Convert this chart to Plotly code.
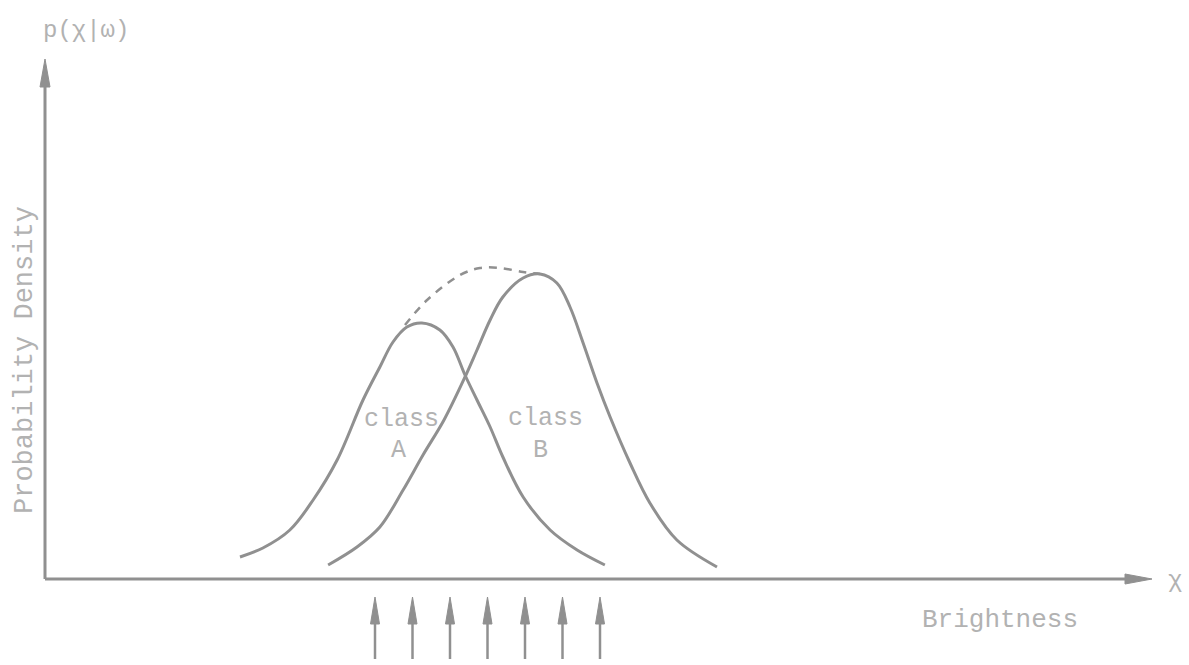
import plotly.graph_objects as go

# ---- data (brightness units, density units) ----
class_a_x = [5.20, 5.81, 6.53, 7.15, 7.79, 8.48, 8.93, 9.28, 9.65, 10.05, 10.53, 10.88, 11.20, 11.52, 11.87, 12.21, 12.75, 13.47, 14.19, 14.93]
class_a_y = [0.22, 0.31, 0.49, 0.79, 1.19, 1.79, 2.12, 2.37, 2.52, 2.56, 2.49, 2.32, 2.04, 1.79, 1.52, 1.22, 0.82, 0.49, 0.29, 0.14]

class_b_x = [7.55, 8.32, 8.93, 9.55, 10.08, 10.64, 11.20, 11.52, 11.87, 12.21, 12.75, 13.20, 13.65, 14.00, 14.35, 14.72, 15.07, 15.60, 16.13, 16.85, 17.92]
class_b_y = [0.14, 0.32, 0.52, 0.89, 1.24, 1.59, 2.02, 2.29, 2.59, 2.82, 3.01, 3.05, 2.96, 2.72, 2.36, 1.96, 1.62, 1.16, 0.76, 0.39, 0.12]

envelope_x = [9.60, 10.19, 11.07, 11.60, 12.13, 12.75, 13.20]
envelope_y = [2.54, 2.79, 3.04, 3.11, 3.11, 3.07, 3.05]

level_positions = [8.8, 9.8, 10.8, 11.8, 12.8, 13.8, 14.8]

x_axis_end = 29.52
y_axis_end = 5.20

LINE = "#909090"
TEXT = "#b2b2b2"
FONT = "Liberation Mono"

fig = go.Figure()
for xs, ys in [(class_a_x, class_a_y), (class_b_x, class_b_y)]:
    fig.add_trace(go.Scatter(x=xs, y=ys, mode="lines",
                             line=dict(color=LINE, width=3, shape="spline", smoothing=1.0),
                             hoverinfo="skip", showlegend=False))
fig.add_trace(go.Scatter(x=envelope_x, y=envelope_y, mode="lines",
                         line=dict(color=LINE, width=2.5, shape="spline", dash="8px,7px"),
                         hoverinfo="skip", showlegend=False))

shapes = []
# axes lines
shapes.append(dict(type="line", xref="x", yref="y", x0=0, y0=0, x1=x_axis_end - 0.4, y1=0,
                   line=dict(color=LINE, width=3)))
shapes.append(dict(type="line", xref="x", yref="y", x0=0, y0=0, x1=0, y1=y_axis_end - 0.2,
                   line=dict(color=LINE, width=3)))
# arrow heads of axes
shapes.append(dict(type="path", xref="x", yref="y", xsizemode="pixel", ysizemode="pixel",
                   xanchor=0, yanchor=y_axis_end, path="M0,0 L-5,-28 L5,-28 Z",
                   fillcolor=LINE, line=dict(color=LINE, width=1)))
shapes.append(dict(type="path", xref="x", yref="y", xsizemode="pixel", ysizemode="pixel",
                   xanchor=x_axis_end, yanchor=0, path="M0,0 L-27,-5 L-27,5 Z",
                   fillcolor=LINE, line=dict(color=LINE, width=1)))
# level arrows below the axis
for lx in level_positions:
    shapes.append(dict(type="path", xref="x", yref="y", xsizemode="pixel", ysizemode="pixel",
                       xanchor=lx, yanchor=-0.18, path="M0,0 L-4.5,-27 L4.5,-27 Z",
                       fillcolor=LINE, line=dict(color=LINE, width=1)))
    shapes.append(dict(type="line", xref="x", yref="y", xsizemode="pixel", ysizemode="pixel",
                       xanchor=lx, yanchor=-0.18, x0=0, x1=0, y0=-25, y1=-62,
                       line=dict(color=LINE, width=2.5)))

def px_to_x(px):
    return (px - 45) / 37.5

def px_to_y(py):
    return (579 - py) / 100

annotations = [
    dict(text="p(χ|ω)", x=px_to_x(86), y=px_to_y(30), size=24),
    dict(text="Probability Density", x=px_to_x(25), y=px_to_y(360), size=27, angle=-90),
    dict(text="class", x=px_to_x(401), y=px_to_y(419), size=25),
    dict(text="A", x=px_to_x(398), y=px_to_y(450), size=25),
    dict(text="class", x=px_to_x(545), y=px_to_y(418), size=25),
    dict(text="B", x=px_to_x(540), y=px_to_y(450), size=25),
    dict(text="Brightness", x=px_to_x(1000), y=px_to_y(620), size=26),
    dict(text="χ", x=px_to_x(1175), y=px_to_y(580), size=24),
]
ann = []
for a in annotations:
    ann.append(dict(text=a["text"], x=a["x"], y=a["y"], xref="x", yref="y",
                    showarrow=False, textangle=a.get("angle", 0),
                    font=dict(family=FONT, size=a["size"], color=TEXT),
                    xanchor="center", yanchor="middle"))

fig.update_layout(
    width=1189, height=665,
    margin=dict(l=0, r=0, t=0, b=0),
    paper_bgcolor="white", plot_bgcolor="white",
    xaxis=dict(range=[-1.2, 30.5067], visible=False, fixedrange=True),
    yaxis=dict(range=[-0.86, 5.79], visible=False, fixedrange=True),
    shapes=shapes, annotations=ann,
    showlegend=False,
)

fig.write_html("out.html", config={"displayModeBar": False},
               post_script="document.body.style.margin='0';")
